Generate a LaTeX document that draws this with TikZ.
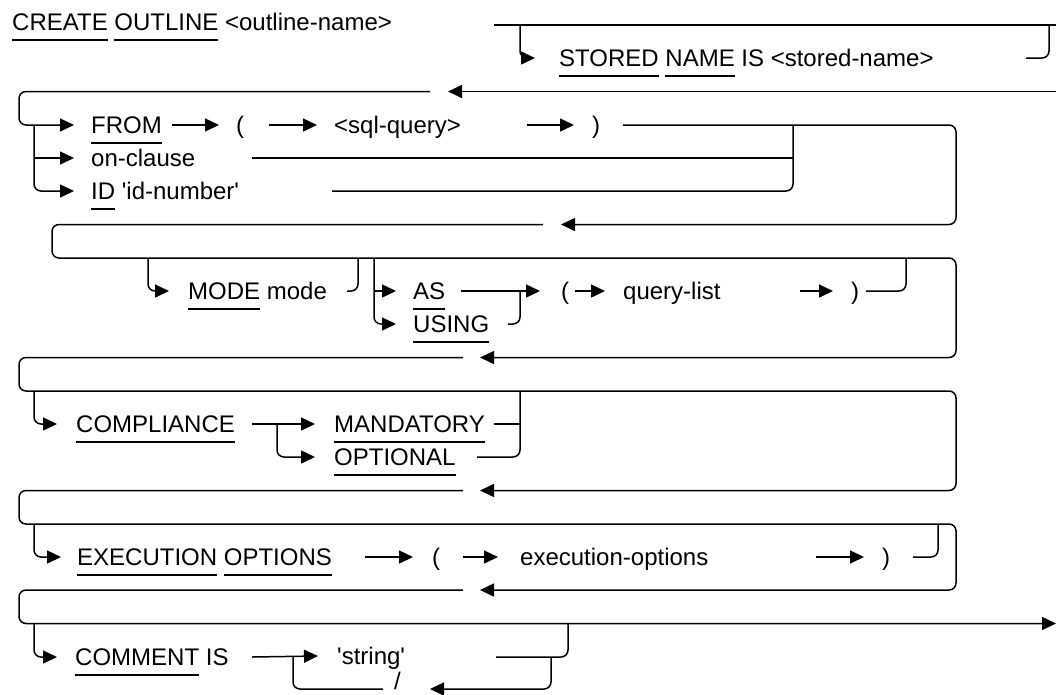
\documentclass[tikz,border=0pt]{standalone}
\usepackage{fontspec}
\setmainfont{Liberation Sans}
\usetikzlibrary{arrows.meta}

% underlined keyword
\newcommand{\kw}[1]{\vtop{\hbox{#1}\kern8.5pt\hrule height1.5pt}}

\tikzset{
  rail/.style={line width=1.5pt, rounded corners=7pt},
  into/.style={rail, -{Triangle[length=14pt,width=13pt]}},
  word/.style={inner sep=0pt, anchor=west, text height=17pt, text depth=0pt,
    font=\fontsize{24pt}{28pt}\selectfont}
}

\begin{document}
\begin{tikzpicture}[x=1pt, y=-1pt]
    \useasboundingbox (0,0) rectangle (1056,694);

    % header and stored name
    \node[word] (hdr) at (12,22) {\kw{CREATE} \kw{OUTLINE} <outline-name>};
    \node[word] (stored) at (559,58) {\kw{STORED} \kw{NAME} IS <stored-name>};
    \coordinate (topl) at (494,25);
    \coordinate (topr) at (1056,25);
    \draw[rail] (topl) -- (topr);
    \draw[into] (520,25) |- ([xshift=-24pt]stored.west);
    \draw[rail] ([xshift=92pt]stored.east) -| (1049,25);
    \draw[into] (1056,91.5) -- (448,91.5);

    % FROM / on-clause / ID
    \node[word] (from) at (91,125) {\kw{FROM}};
    \node[word] (lp1) at (236,125) {(};
    \node[word] (sql) at (334,125) {<sql-query>};
    \node[word] (rp1) at (592,125) {)};
    \node[word] (onc) at (91,158) {on-clause};
    \node[word] (idn) at (91,191) {\kw{ID} \textquotesingle id-number\textquotesingle};
    \draw[into] (430,91.5) -- (19,91.5) -- (19,125) -- ([xshift=-17pt]from.west);
    \draw[into] (34,125) |- ([xshift=-17pt]idn.west);
    \draw[into] (34,158) -- ([xshift=-17pt]onc.west);
    \draw[into] (172,125) -- ([xshift=-17pt]lp1.west);
    \draw[into] (269,125) -- ([xshift=-17pt]sql.west);
    \draw[into] (527,125) -- ([xshift=-18pt]rp1.west);
    \draw[rail] (252,158) -- (793,158);
    \draw[rail] (332,191) -| (793,125);
    \draw[into] (623,125) -- (956,125) -- (956,224.5) -- (561,224.5);

    % MODE / AS / USING
    \node[word] (mode) at (188,291) {\kw{MODE} mode};
    \node[word] (as) at (413,291) {\kw{AS}};
    \node[word] (using) at (413,324) {\kw{USING}};
    \node[word] (lp2) at (561,291) {(};
    \node[word] (qlist) at (623,291) {query-list};
    \node[word] (rp2) at (851,291) {)};
    \draw[into] (543,224.5) -- (52,224.5) -- (52,258) -- (956,258) -- (956,357.5) -- (480,357.5);
    \draw[into] (148,258) |- ([xshift=-19pt]mode.west);
    \draw[rail] (347,291) -| (358,258);
    \draw[into] (374,258) |- ([xshift=-17pt]using.west);
    \draw[into] (374,291) -- ([xshift=-17pt]as.west);
    \draw[into] (461,291) -- (540,291);
    \draw[rail] (508,324) -| (520,291);
    \draw[into] (575,291) -- ([xshift=-18pt]qlist.west);
    \draw[into] (800,291) -- ([xshift=-18pt]rp2.west);
    \draw[rail] (866,291) -| (906,258);

    % COMPLIANCE
    \node[word] (compl) at (76,424) {\kw{COMPLIANCE}};
    \node[word] (mand) at (334,424) {\kw{MANDATORY}};
    \node[word] (opt) at (334,457) {\kw{OPTIONAL}};
    \draw[into] (463,357.5) -- (19,357.5) -- (19,391) -- (956,391) -- (956,490.5) -- (480,490.5);
    \draw[into] (34,391) |- ([xshift=-19pt]compl.west);
    \draw[into] (252,424) -- ([xshift=-19pt]mand.west);
    \draw[into] (277,424) |- ([xshift=-19pt]opt.west);
    \draw[rail] (494,424) -- (520,424);
    \draw[rail] (477,457) -| (520,391);

    % EXECUTION OPTIONS
    \node[word] (exec) at (77,557) {\kw{EXECUTION} \kw{OPTIONS}};
    \node[word] (lp3) at (432,557) {(};
    \node[word] (eopt) at (520,557) {execution-options};
    \node[word] (rp3) at (882,557) {)};
    \draw[into] (463,490.5) -- (19,490.5) -- (19,524) -- (956,524) -- (956,590) -- (480,590);
    \draw[into] (34,524) |- ([xshift=-16pt]exec.west);
    \draw[into] (365,557) -- ([xshift=-19pt]lp3.west);
    \draw[into] (463,557) -- ([xshift=-22pt]eopt.west);
    \draw[into] (816,557) -- ([xshift=-18pt]rp3.west);
    \draw[rail] (913,557) -| (938,524);

    % COMMENT IS
    \node[word] (cmt) at (75,657) {\kw{COMMENT} IS};
    \node[word] (str) at (337,656) {\textquotesingle string\textquotesingle};
    \node[word] (slash) at (394,681) {/};
    \coordinate (fin) at (1056,623.5);
    \draw[into] (463,590) -- (19,590) -- (19,623.5) -- (fin);
    \draw[into] (34,623.5) |- ([xshift=-18pt]cmt.west);
    \draw[into] (252,657) -- ([xshift=-19pt]str.west);
    \draw[rail] (293,657) |- (383,689);
    \draw[into] (551,657) |- (430,689);
    \draw[rail] (496,657) -| (568,623.5);
\end{tikzpicture}
\end{document}
